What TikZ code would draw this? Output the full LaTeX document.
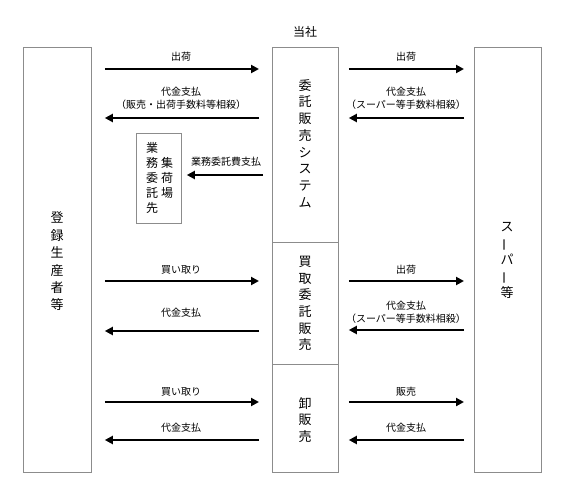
\documentclass[tikz,border=0pt]{standalone}
\usepackage{fontspec}
\usepackage{graphicx}
\setmainfont{Noto Sans CJK JP}
\usetikzlibrary{arrows.meta}
\tikzset{
  box/.style={draw=black!45, line width=0.8pt, inner sep=0pt, anchor=north west},
  arr/.style={line width=2.6pt, -{Triangle[length=8pt,width=8pt]}},
  lbl/.style={font=\fontsize{10}{13}\selectfont, align=center, inner sep=0pt},
  vtext/.style={align=center, inner sep=0pt, font=\fontsize{13}{16.7}\selectfont},
}
\newcommand{\vbar}{\rotatebox[origin=c]{90}{ー}}
\begin{document}
\begin{tikzpicture}[x=1pt,y=-1pt]
\useasboundingbox (0,0) rectangle (567,479);
% boxes
\node[box, minimum width=68pt, minimum height=425pt] (L) at (23,47) {};
\node[box, minimum width=66pt, minimum height=195pt] (C1) at (272,47) {};
\node[box, minimum width=66pt, minimum height=122pt] (C2) at (272,242) {};
\node[box, minimum width=66pt, minimum height=108pt] (C3) at (272,364) {};
\node[box, minimum width=67pt, minimum height=425pt] (R) at (474,47) {};
\node[box, minimum width=45pt, minimum height=90pt] (S) at (136,133) {};
% titles
\node[inner sep=0pt, font=\fontsize{12}{14}\selectfont] (T) at (305,32) {当社};
\node[vtext, font=\fontsize{13}{17.4}\selectfont] (Lt) at (57,261.5) {登\\録\\生\\産\\者\\等};
\node[vtext] (C1t) at (305,143.5) {委\\託\\販\\売\\シ\\ス\\テ\\ム};
\node[vtext] (C2t) at (305,303.5) {買\\取\\委\\託\\販\\売};
\node[vtext] (C3t) at (305,420) {卸\\販\\売};
\node[vtext, font=\fontsize{13}{16.5}\selectfont] (Rt) at (507,260) {ス\\\vbar\\パ\\\vbar\\等};
\node[vtext, font=\fontsize{12}{15}\selectfont] (S1) at (152,178) {業\\務\\委\\託\\先};
\node[vtext, font=\fontsize{12}{15}\selectfont] (S2) at (167,178) {集\\荷\\場};
% left arrows - row 1
\draw[arr] ([xshift=13pt]L.east |- 0,69) -- ([xshift=-13pt]C1.west |- 0,69);
\node[lbl] (l1) at (181,57) {出荷};
\draw[arr] ([xshift=-13pt]C1.west |- 0,118) -- ([xshift=13pt]L.east |- 0,118);
\node[lbl] (l2) at (181,98) {代金支払\\（販売・出荷手数料等相殺）};
\draw[arr] ([xshift=-9pt]C1.west |- 0,175) -- ([xshift=5pt]S.east |- 0,175);
\node[lbl] (l3) at (226,162) {業務委託費支払};
% right arrows - row 1
\draw[arr] ([xshift=10pt]C1.east |- 0,69) -- ([xshift=-10pt]R.west |- 0,69);
\node[lbl] (r1) at (406,57) {出荷};
\draw[arr] ([xshift=-10pt]R.west |- 0,118) -- ([xshift=10pt]C1.east |- 0,118);
\node[lbl] (r2) at (406,98) {代金支払\\（スーパー等手数料相殺）};
% middle row
\draw[arr] ([xshift=13pt]L.east |- 0,281) -- ([xshift=-13pt]C2.west |- 0,281);
\node[lbl] (l4) at (181,270) {買い取り};
\draw[arr] ([xshift=-13pt]C2.west |- 0,331) -- ([xshift=13pt]L.east |- 0,331);
\node[lbl] (l5) at (181,313) {代金支払};
\draw[arr] ([xshift=10pt]C2.east |- 0,281) -- ([xshift=-10pt]R.west |- 0,281);
\node[lbl] (r3) at (406,270) {出荷};
\draw[arr] ([xshift=-10pt]R.west |- 0,330) -- ([xshift=10pt]C2.east |- 0,330);
\node[lbl] (r4) at (406,312.5) {代金支払\\（スーパー等手数料相殺）};
% bottom row
\draw[arr] ([xshift=13pt]L.east |- 0,402) -- ([xshift=-13pt]C3.west |- 0,402);
\node[lbl] (l6) at (181,392) {買い取り};
\draw[arr] ([xshift=-13pt]C3.west |- 0,440) -- ([xshift=13pt]L.east |- 0,440);
\node[lbl] (l7) at (181,428) {代金支払};
\draw[arr] ([xshift=10pt]C3.east |- 0,402) -- ([xshift=-10pt]R.west |- 0,402);
\node[lbl] (r5) at (406,392) {販売};
\draw[arr] ([xshift=-10pt]R.west |- 0,440) -- ([xshift=10pt]C3.east |- 0,440);
\node[lbl] (r6) at (406,428) {代金支払};
\end{tikzpicture}
\end{document}
